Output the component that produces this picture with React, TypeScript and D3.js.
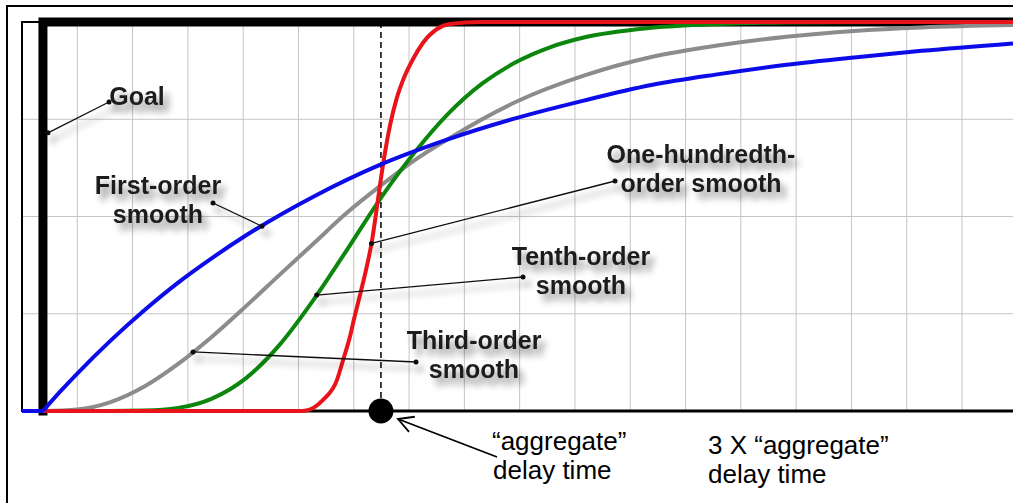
import React from 'react'
import * as d3 from 'd3'

// time is measured in multiples of the "aggregate" delay time
const firstOrderTime = [-0.062, 0, 0.05, 0.1, 0.2, 0.3, 0.4, 0.5, 0.6, 0.8, 1.0, 1.2, 1.4, 1.6, 1.8, 2.0, 2.2, 2.4, 2.6, 2.87]
const firstOrder = [0, 0, 0.049, 0.095, 0.181, 0.259, 0.33, 0.393, 0.451, 0.551, 0.634, 0.699, 0.753, 0.798, 0.838, 0.866, 0.89, 0.909, 0.926, 0.945]

const thirdOrderTime = [0, 0.1, 0.2, 0.3, 0.4, 0.5, 0.6, 0.7, 0.8, 0.9, 1.0, 1.1, 1.2, 1.4, 1.6, 1.8, 2.0, 2.2, 2.4, 2.6, 2.87]
const thirdOrder = [0, 0.004, 0.023, 0.063, 0.121, 0.191, 0.269, 0.35, 0.43, 0.51, 0.58, 0.645, 0.7, 0.795, 0.862, 0.91, 0.94, 0.962, 0.977, 0.986, 0.992]

const tenthOrderTime = [0, 0.2, 0.3, 0.4, 0.5, 0.6, 0.7, 0.8, 0.9, 1.0, 1.1, 1.2, 1.3, 1.4, 1.5, 1.6, 1.8, 2.0, 2.2, 2.5, 2.87]
const tenthOrder = [0, 0, 0.001, 0.008, 0.032, 0.084, 0.17, 0.285, 0.415, 0.548, 0.665, 0.765, 0.842, 0.897, 0.935, 0.96, 0.985, 0.995, 0.999, 1, 1]

const hundredthOrderTime = [0, 0.769, 0.8, 0.828, 0.87, 0.888, 0.908, 0.92, 0.94, 0.959, 0.973, 0.985, 0.997, 1.012, 1.027, 1.047, 1.065, 1.095, 1.124, 1.166, 1.204, 1.293, 2.87]
const hundredthOrder = [0, 0, 0.008, 0.028, 0.08, 0.131, 0.19, 0.235, 0.305, 0.375, 0.435, 0.505, 0.58, 0.665, 0.735, 0.805, 0.85, 0.905, 0.946, 0.982, 0.995, 1, 1]

const goalTime = [0, 0, 2.87]
const goal = [0, 1, 1]

const xDomain = [-0.062, 2.87]
const gridStep = 0.1636
const yGrid = [0.25, 0.5, 0.75]
const delayMark = 1

const series = [
  { key: 'third', time: thirdOrderTime, values: thirdOrder, color: '#8c8c8c' },
  { key: 'tenth', time: tenthOrderTime, values: tenthOrder, color: '#0c860c' },
  { key: 'hundredth', time: hundredthOrderTime, values: hundredthOrder, color: '#e8141a' },
  { key: 'first', time: firstOrderTime, values: firstOrder, color: '#0c0ce8' },
]

const labels = [
  { lines: ['Goal'], x: 137, y: 105, from: [109, 102], series: 'goal', t: 0.715 },
  { lines: ['First-order', 'smooth'], x: 158, y: 194, from: [213, 203], series: 'first', t: 0.648 },
  { lines: ['One-hundredth-', 'order smooth'], x: 701, y: 163, from: [615, 181], series: 'hundredth', t: 0.972 },
  { lines: ['Tenth-order', 'smooth'], x: 581, y: 265, from: [523, 277], series: 'tenth', t: 0.81 },
  { lines: ['Third-order', 'smooth'], x: 474, y: 349, from: [416, 362], series: 'third', t: 0.444 },
]

const App = () => {
  const width = 1013
  const height = 503
  const left = 22
  const top = 22
  const bottom = 411

  const x = d3.scaleLinear().domain(xDomain).range([left, width])
  const y = d3.scaleLinear().domain([0, 1]).range([bottom, top])

  const line = d3
    .line<[number, number]>()
    .x((d) => x(d[0]))
    .y((d) => y(d[1]))
    .curve(d3.curveMonotoneX)

  const straight = d3
    .line<[number, number]>()
    .x((d) => x(d[0]))
    .y((d) => y(d[1]))

  const xGrid = d3.range(xDomain[0] + gridStep, xDomain[1] + 0.02, gridStep)

  const target = (key: string, t: number): [number, number] => {
    if (key === 'goal') return [x(0) + 5, y(t)]
    const s = series.find((d) => d.key === key)!
    const interp = d3.scaleLinear().domain(s.time).range(s.values)
    return [x(t), y(interp(t))]
  }

  // curve before the step is flat, drawn straight; the smooth starts at t=0
  const curvePath = (s: (typeof series)[number]) => {
    const pts = s.time.map((t, i) => [t, s.values[i]] as [number, number])
    const pre = pts.filter((p) => p[0] <= 0)
    const post = pts.filter((p) => p[0] >= 0)
    return (pre.length > 1 ? straight(pre) || '' : '') + (line(post) || '')
  }

  // open arrowhead pointing at the delay dot
  const tail: [number, number] = [497, 457]
  const tip: [number, number] = [398, 419]
  const ang = Math.atan2(tail[1] - tip[1], tail[0] - tip[0])
  const wing = (a: number) => [tip[0] + 17 * Math.cos(ang + a), tip[1] + 17 * Math.sin(ang + a)]
  const w1 = wing(0.5)
  const w2 = wing(-0.5)

  const font = '"Liberation Sans", Arial, sans-serif'

  return (
    <svg
      width={width}
      height={height}
      style={{ position: 'absolute', left: 0, top: 0, background: '#fff' }}
    >
      <defs>
        <filter id="shadow" x="-20%" y="-40%" width="150%" height="200%">
          <feGaussianBlur in="SourceAlpha" stdDeviation="3.5" />
          <feOffset dx="5" dy="7" />
          <feComponentTransfer>
            <feFuncA type="linear" slope="0.45" />
          </feComponentTransfer>
          <feMerge>
            <feMergeNode />
            <feMergeNode in="SourceGraphic" />
          </feMerge>
        </filter>
      </defs>
      <rect x={0} y={0} width={width} height={height} fill="#fff" />
      {/* outer frame */}
      <rect x={7} y={6} width={width + 20} height={height + 20} fill="none" stroke="#000" strokeWidth={2} />

      {/* grid */}
      {xGrid.map((g, i) => (
        <line key={'gx' + i} x1={x(g)} x2={x(g)} y1={top} y2={bottom} stroke="#c4c4c4" strokeWidth={1} />
      ))}
      {yGrid.map((g, i) => (
        <line key={'gy' + i} x1={left} x2={width} y1={y(g)} y2={y(g)} stroke="#c4c4c4" strokeWidth={1} />
      ))}

      {/* plot box */}
      <rect x={left} y={top} width={width} height={bottom - top} fill="none" stroke="#000" strokeWidth={2} />
      <line x1={left} x2={width} y1={bottom} y2={bottom} stroke="#000" strokeWidth={3} />

      {/* goal */}
      <path
        d={straight(goalTime.map((t, i) => [t, goal[i]] as [number, number])) || ''}
        fill="none"
        stroke="#000"
        strokeWidth={9}
        strokeLinejoin="miter"
        strokeLinecap="square"
      />

      {/* dashed delay marker */}
      <line
        x1={x(delayMark)}
        x2={x(delayMark)}
        y1={top}
        y2={bottom}
        stroke="#000"
        strokeWidth={1.5}
        strokeDasharray="6,4"
      />

      {series.map((s) => (
        <path
          key={s.key}
          d={curvePath(s)}
          fill="none"
          stroke={s.color}
          strokeWidth={4}
          strokeLinejoin="round"
        />
      ))}

      <circle cx={x(delayMark)} cy={bottom} r={12.5} fill="#000" />

      {/* labels with pointers */}
      <g filter="url(#shadow)">
        {labels.map((l, i) => {
          const p = target(l.series, l.t)
          return (
            <g key={'lab' + i}>
              <line x1={l.from[0]} y1={l.from[1]} x2={p[0]} y2={p[1]} stroke="#111" strokeWidth={1.3} />
              <circle cx={l.from[0]} cy={l.from[1]} r={2.5} fill="#111" />
              <circle cx={p[0]} cy={p[1]} r={2.5} fill="#111" />
              <text
                x={l.x}
                y={l.y}
                textAnchor="middle"
                fontFamily={font}
                fontWeight="bold"
                fontSize={25}
                fill="#1c1c1c"
              >
                {l.lines.map((s, j) => (
                  <tspan key={j} x={l.x} dy={j === 0 ? 0 : 29}>
                    {s}
                  </tspan>
                ))}
              </text>
            </g>
          )
        })}
      </g>

      {/* arrow to the delay time */}
      <line x1={tail[0]} y1={tail[1]} x2={tip[0]} y2={tip[1]} stroke="#000" strokeWidth={1.8} />
      <polyline points={`${w1[0]},${w1[1]} ${tip[0]},${tip[1]} ${w2[0]},${w2[1]}`} fill="none" stroke="#000" strokeWidth={1.8} />

      <g fontFamily={font} fontSize={26} fill="#000">
        <text x={492} y={450}>“aggregate”</text>
        <text x={493} y={479}>delay time</text>
        <text x={708} y={454}>3 X “aggregate”</text>
        <text x={708} y={483}>delay time</text>
      </g>
    </svg>
  )
}

export default App
